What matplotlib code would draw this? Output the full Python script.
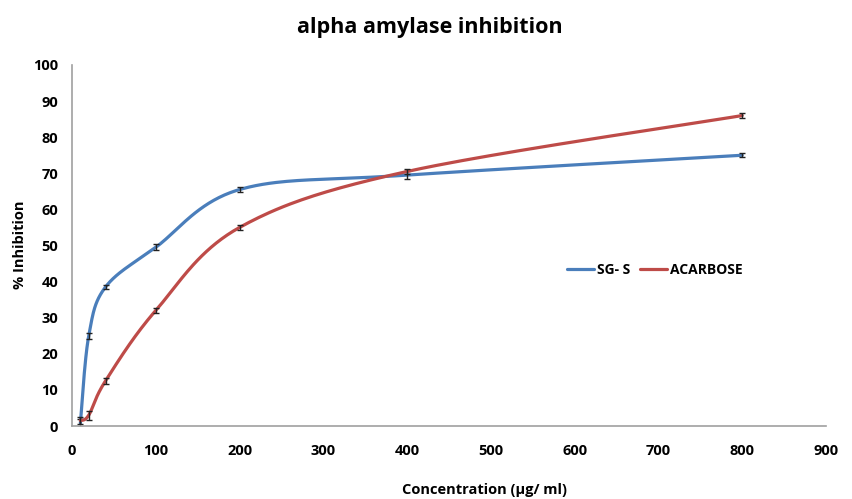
import numpy as np
import matplotlib
matplotlib.use("Agg")
import matplotlib.pyplot as plt
from matplotlib import font_manager

conc = [10, 20, 40, 100, 200, 400, 800]
sgs = [0.8, 25.0, 38.5, 49.5, 65.5, 69.5, 75.0]
sgs_err = [1.2, 0.8, 0.6, 0.8, 0.8, 1.0, 0.6]
acarbose = [1.5, 3.0, 12.5, 32.0, 55.0, 70.5, 86.0]
aca_err = [1.0, 1.2, 0.8, 0.6, 0.6, 0.8, 0.8]
xticks = [0, 100, 200, 300, 400, 500, 600, 700, 800, 900]
yticks = [0, 10, 20, 30, 40, 50, 60, 70, 80, 90, 100]

names = {f.name for f in font_manager.fontManager.ttflist}
fam = ['Liberation Sans Narrow', 'DejaVu Sans'] if 'Liberation Sans Narrow' in names else ['Open Sans', 'DejaVu Sans']
plt.rcParams['font.family'] = fam


def smooth(xs, ys, n=40):
    xs = np.asarray(xs, float); ys = np.asarray(ys, float)
    P = np.column_stack([xs, ys])
    out = []
    for i in range(len(P) - 1):
        p0 = P[i - 1] if i > 0 else P[i]
        p1 = P[i]; p2 = P[i + 1]
        p3 = P[i + 2] if i + 2 < len(P) else P[i + 1]
        c1 = p1 + (p2 - p0) / 6.0
        c2 = p2 - (p3 - p1) / 6.0
        t = np.linspace(0, 1, n)[:, None]
        seg = (1 - t) ** 3 * p1 + 3 * (1 - t) ** 2 * t * c1 + 3 * (1 - t) * t ** 2 * c2 + t ** 3 * p2
        out.append(seg if i == 0 else seg[1:])
    s = np.vstack(out)
    return s[:, 0], s[:, 1]


fig = plt.figure(figsize=(8.52, 4.99), dpi=100)
ax = fig.add_axes([72 / 852, 1 - 426 / 499, (826 - 72) / 852, (426 - 65) / 499])

blue = '#4a7ebb'
red = '#be4b48'
sx, sy = smooth(conc, sgs)
ax.plot(sx, sy, color=blue, lw=2.3, label='SG- S', solid_capstyle='round')
ax.errorbar(conc, sgs, yerr=sgs_err, fmt='none', ecolor='#222222', elinewidth=1, capsize=2)
ax.plot(*smooth(conc, acarbose), color=red, lw=2.3, label='ACARBOSE', solid_capstyle='round')
ax.errorbar(conc, acarbose, yerr=aca_err, fmt='none', ecolor='#222222', elinewidth=1, capsize=2)

ax.set_xlim(0, 900)
ax.set_ylim(0, 100)
ax.set_xticks(xticks)
ax.set_yticks(yticks)
ax.tick_params(length=0, labelsize=10.5)
ax.tick_params(axis='x', pad=13)
ax.tick_params(axis='y', pad=10)
for lab in ax.get_xticklabels() + ax.get_yticklabels():
    lab.set_fontweight('bold')
for s in ['top', 'right']:
    ax.spines[s].set_visible(False)
for s in ['left', 'bottom']:
    ax.spines[s].set_color('#a0a0a0')
    ax.spines[s].set_linewidth(1.2)

fig.text(430 / 852, 1 - 28 / 499, 'alpha amylase inhibition', ha='center', va='center',
         fontsize=15.5, fontweight='bold')
fig.text(484 / 852, 1 - 490 / 499, 'Concentration (µg/ ml)', ha='center', va='center',
         fontsize=10.5, fontweight='bold')
fig.text(20 / 852, 1 - 245 / 499, '% Inhibition', ha='center', va='center',
         fontsize=10.5, fontweight='bold', rotation=90)

leg = ax.legend(loc='center', bbox_to_anchor=((655 - 72) / (826 - 72), (426 - 270) / (426 - 65)),
                ncol=2, frameon=False, handlelength=1.9, columnspacing=0.7, handletextpad=0.25,
                prop={'weight': 'bold', 'size': 10})

fig.savefig('out.png', dpi=100)
